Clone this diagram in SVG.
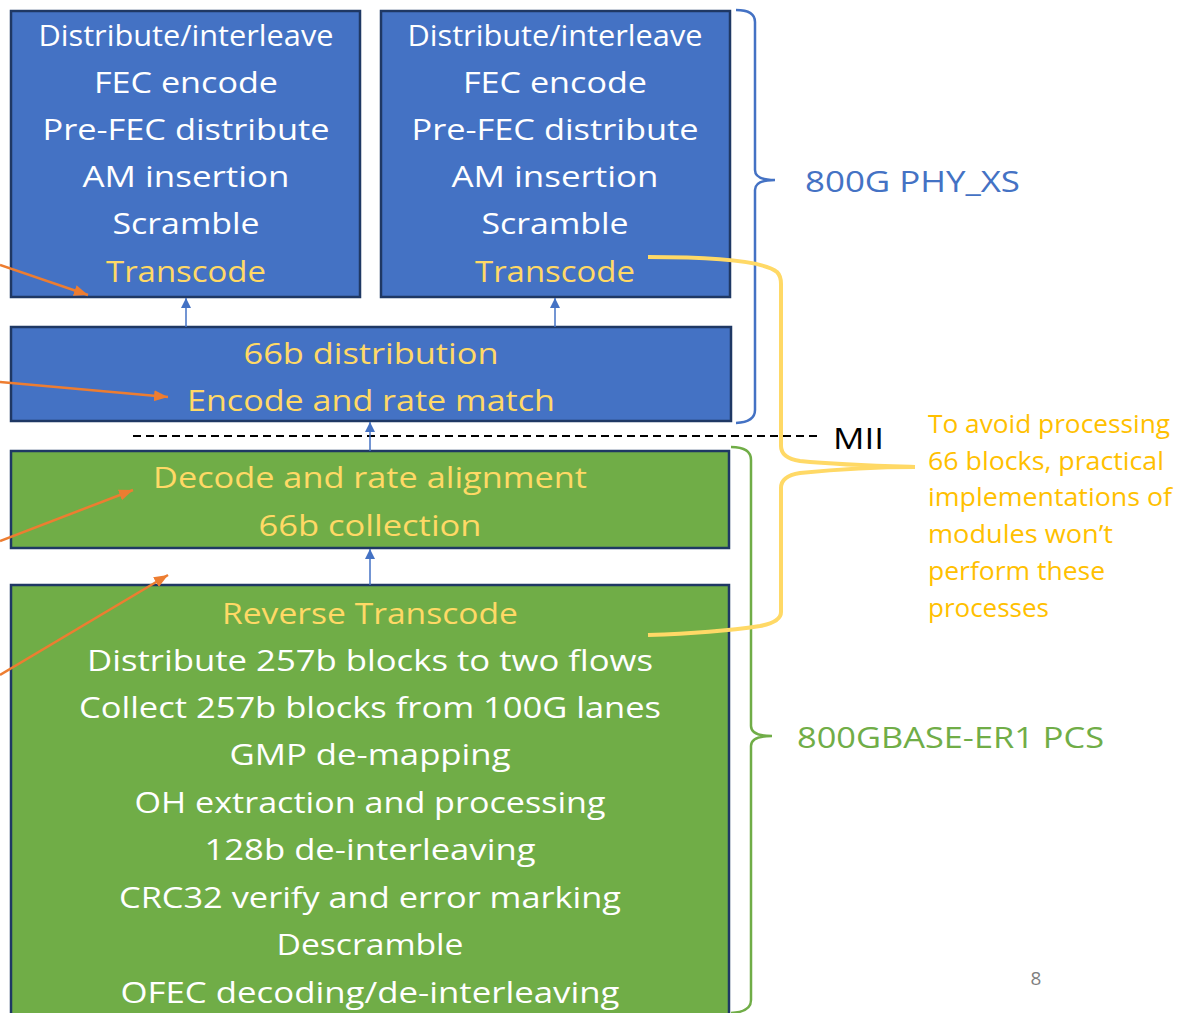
<svg xmlns="http://www.w3.org/2000/svg" width="1180" height="1013" viewBox="0 0 1180 1013">
  <style>
    .box-blue { fill: #4472c4; stroke: #1f3864; stroke-width: 2.5; }
    .box-green { fill: #70ad47; stroke: #1f3864; stroke-width: 2.5; }
    text { font-family: "Open Sans", Lato, sans-serif; }
    .t { font-size: 30px; text-anchor: middle; }
    .w { fill: #ffffff; }
    .y { fill: #ffd966; }
    .lbl { font-size: 30px; }
    .note { font-size: 25px; fill: #ffc000; }
    .up { stroke: #4472c4; stroke-width: 1.5; fill: none; marker-end: url(#blueHead); }
    .orange { stroke: #ed7d31; stroke-width: 2.5; fill: none; marker-end: url(#orangeHead); }
  </style>
  <defs>
    <marker id="blueHead" viewBox="0 0 10 10" refX="10" refY="5" markerWidth="10" markerHeight="10" markerUnits="userSpaceOnUse" orient="auto">
      <path d="M0,0 L10,5 L0,10 Z" fill="#4472c4"/>
    </marker>
    <marker id="orangeHead" viewBox="0 0 10 10" refX="10" refY="5" markerWidth="14" markerHeight="14" markerUnits="userSpaceOnUse" orient="auto">
      <path d="M0,1 L10,5 L0,9 Z" fill="#ed7d31"/>
    </marker>
  </defs>

  <rect width="1180" height="1013" fill="#ffffff"/>

  <!-- PHY_XS, left lane -->
  <g id="phyxs-a">
    <rect class="box-blue" x="11" y="11" width="349" height="286"/>
    <text class="t w" x="186" y="46" textLength="295" lengthAdjust="spacingAndGlyphs">Distribute/interleave</text>
    <text class="t w" x="186" y="93" textLength="184" lengthAdjust="spacingAndGlyphs">FEC encode</text>
    <text class="t w" x="186" y="140" textLength="287" lengthAdjust="spacingAndGlyphs">Pre-FEC distribute</text>
    <text class="t w" x="186" y="187" textLength="207" lengthAdjust="spacingAndGlyphs">AM insertion</text>
    <text class="t w" x="186" y="234" textLength="147" lengthAdjust="spacingAndGlyphs">Scramble</text>
    <text class="t y" x="186" y="282" textLength="160" lengthAdjust="spacingAndGlyphs">Transcode</text>
  </g>

  <!-- PHY_XS, right lane -->
  <g id="phyxs-b">
    <rect class="box-blue" x="381" y="11" width="349" height="286"/>
    <text class="t w" x="555" y="46" textLength="295" lengthAdjust="spacingAndGlyphs">Distribute/interleave</text>
    <text class="t w" x="555" y="93" textLength="184" lengthAdjust="spacingAndGlyphs">FEC encode</text>
    <text class="t w" x="555" y="140" textLength="287" lengthAdjust="spacingAndGlyphs">Pre-FEC distribute</text>
    <text class="t w" x="555" y="187" textLength="207" lengthAdjust="spacingAndGlyphs">AM insertion</text>
    <text class="t w" x="555" y="234" textLength="147" lengthAdjust="spacingAndGlyphs">Scramble</text>
    <text class="t y" x="555" y="282" textLength="160" lengthAdjust="spacingAndGlyphs">Transcode</text>
  </g>

  <!-- 66b distribution -->
  <g id="dist66">
    <rect class="box-blue" x="11" y="327" width="720" height="94"/>
    <text class="t y" x="371" y="364" textLength="255" lengthAdjust="spacingAndGlyphs">66b distribution</text>
    <text class="t y" x="371" y="411" textLength="368" lengthAdjust="spacingAndGlyphs">Encode and rate match</text>
  </g>

  <!-- decode / 66b collection -->
  <g id="collect66">
    <rect class="box-green" x="11" y="451" width="718" height="97"/>
    <text class="t y" x="370" y="488" textLength="434" lengthAdjust="spacingAndGlyphs">Decode and rate alignment</text>
    <text class="t y" x="370" y="536" textLength="223" lengthAdjust="spacingAndGlyphs">66b collection</text>
  </g>

  <!-- receive PCS stack -->
  <g id="pcs-rx">
    <rect class="box-green" x="11" y="585" width="718" height="440"/>
    <text class="t y" x="370" y="624" textLength="296" lengthAdjust="spacingAndGlyphs">Reverse Transcode</text>
    <text class="t w" x="370" y="671" textLength="566" lengthAdjust="spacingAndGlyphs">Distribute 257b blocks to two flows</text>
    <text class="t w" x="370" y="718" textLength="582" lengthAdjust="spacingAndGlyphs">Collect 257b blocks from 100G lanes</text>
    <text class="t w" x="370" y="765" textLength="281" lengthAdjust="spacingAndGlyphs">GMP de-mapping</text>
    <text class="t w" x="370" y="813" textLength="471" lengthAdjust="spacingAndGlyphs">OH extraction and processing</text>
    <text class="t w" x="370" y="860" textLength="331" lengthAdjust="spacingAndGlyphs">128b de-interleaving</text>
    <text class="t w" x="370" y="908" textLength="502" lengthAdjust="spacingAndGlyphs">CRC32 verify and error marking</text>
    <text class="t w" x="370" y="955" textLength="187" lengthAdjust="spacingAndGlyphs">Descramble</text>
    <text class="t w" x="370" y="1003" textLength="499" lengthAdjust="spacingAndGlyphs">OFEC decoding/de-interleaving</text>
  </g>

  <!-- MII boundary -->
  <g id="mii">
    <line x1="133" y1="436" x2="820" y2="436" stroke="#000000" stroke-width="2" stroke-dasharray="8,5"/>
    <text class="lbl" x="833" y="449" fill="#000000" textLength="51" lengthAdjust="spacingAndGlyphs">MII</text>
  </g>

  <!-- braces and their labels -->
  <g id="brace-phyxs">
    <path d="M736,10 Q755,10 755,22 L755,170 Q755,180 775,180 Q755,180 755,190 L755,410 Q755,422 736,423" fill="none" stroke="#4472c4" stroke-width="2.5"/>
    <text class="lbl" x="805" y="192" fill="#4472c4" textLength="215" lengthAdjust="spacingAndGlyphs">800G PHY_XS</text>
  </g>
  <g id="brace-pcs">
    <path d="M731,447 Q751,447 751,460 L751,726 Q751,736 772,736 Q751,736 751,746 L751,1000 Q751,1012 731,1013" fill="none" stroke="#70ad47" stroke-width="2.5"/>
    <text class="lbl" x="797" y="748" fill="#70ad47" textLength="307" lengthAdjust="spacingAndGlyphs">800GBASE-ER1 PCS</text>
  </g>

  <!-- note with its bracket -->
  <g id="note">
    <path d="M648,257 C720,257 765,262 777,272 Q781,276 781,284 L781,446 Q781,458 800,461 C840,465 880,466 915,467 C880,467 840,469 800,473 Q781,476 781,488 L781,612 Q781,622 760,626 C720,632 680,634 648,635" fill="none" stroke="#ffd966" stroke-width="4"/>
    <text class="note" x="928" y="433" textLength="242" lengthAdjust="spacingAndGlyphs">To avoid processing</text>
    <text class="note" x="928" y="470" textLength="236" lengthAdjust="spacingAndGlyphs">66 blocks, practical</text>
    <text class="note" x="928" y="506" textLength="244" lengthAdjust="spacingAndGlyphs">implementations of</text>
    <text class="note" x="928" y="543" textLength="185" lengthAdjust="spacingAndGlyphs">modules won’t</text>
    <text class="note" x="928" y="580" textLength="177" lengthAdjust="spacingAndGlyphs">perform these</text>
    <text class="note" x="928" y="617" textLength="121" lengthAdjust="spacingAndGlyphs">processes</text>
  </g>

  <text x="1036" y="985" font-size="19" fill="#7f7f7f" text-anchor="middle">8</text>

  <!-- connectors -->
  <g id="connectors">
    <line class="up" x1="186" y1="327" x2="186" y2="298"/>
    <line class="up" x1="555" y1="327" x2="555" y2="298"/>
    <line class="up" x1="370" y1="451" x2="370" y2="422"/>
    <line class="up" x1="370" y1="585" x2="370" y2="549"/>
    <line class="orange" x1="0" y1="265" x2="88" y2="295"/>
    <line class="orange" x1="0" y1="382" x2="168" y2="397"/>
    <line class="orange" x1="0" y1="541" x2="133" y2="490"/>
    <line class="orange" x1="0" y1="675" x2="168" y2="575"/>
  </g>
</svg>
